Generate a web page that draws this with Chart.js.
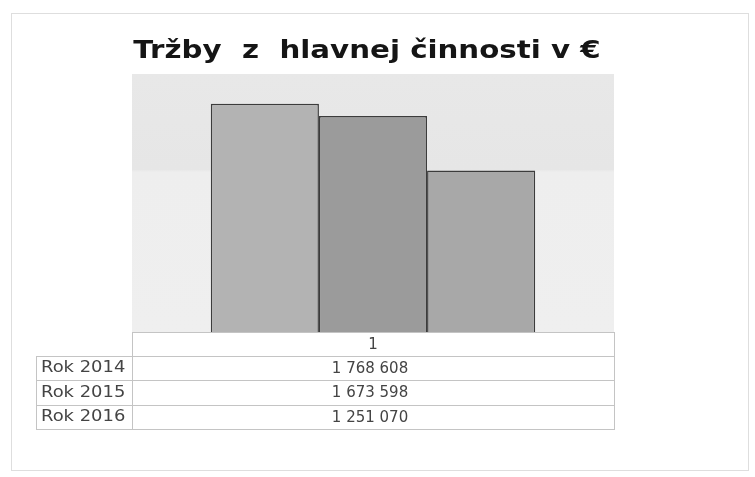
<!DOCTYPE html>
<html>
<head>
<meta charset="utf-8">
<script src="https://cdn.jsdelivr.net/npm/chart.js@4/dist/chart.umd.min.js"></script>
<style>
  html, body { margin: 0; padding: 0; background: #fff; }
  #wrap { width: 755px; height: 477px; position: relative; }
</style>
</head>
<body>
<div id="wrap"><canvas id="trzbyChart" width="755" height="477"></canvas></div>
<script>
// data
const chartTitle = 'Tržby  z  hlavnej činnosti v €';
const categories = ['1'];
const rokLabels = ['Rok 2014', 'Rok 2015', 'Rok 2016'];
const trzby = [1768608, 1673598, 1251070];
const barColors = ['#b3b3b3', '#9b9b9b', '#a8a8a8'];

function formatNum(v){
    return String(v).replace(/\B(?=(\d{3})+(?!\d))/g, ' ');
}

// frame + light plot background + wide title (the scan is stretched sideways)
const backgroundPlugin = {
    id: 'backgroundPlugin',
    beforeDraw(chart){
        const ctx = chart.ctx;
        const a = chart.chartArea;
        ctx.save();
        ctx.strokeStyle = '#dedede';
        ctx.lineWidth = 1;
        ctx.strokeRect(11.5, 13.5, 737, 457);
        const grad = ctx.createLinearGradient(0, a.top, 0, a.bottom);
        grad.addColorStop(0, '#e8e8e8');
        grad.addColorStop(0.37, '#e6e6e6');
        grad.addColorStop(0.38, '#eeeeee');
        grad.addColorStop(1, '#efefef');
        ctx.fillStyle = grad;
        ctx.fillRect(a.left, a.top, a.right - a.left, a.bottom - a.top);

        ctx.font = 'bold 24px "DejaVu Sans", sans-serif';
        ctx.fillStyle = '#151515';
        ctx.textAlign = 'center';
        ctx.textBaseline = 'alphabetic';
        const cx = (a.left + a.right) / 2 - 6;
        ctx.translate(cx, 58);
        ctx.scale(1.22, 1);
        ctx.fillText(chartTitle, 0, 0);
        ctx.restore();
    }
};

// data table under the chart
const dataTablePlugin = {
    id: 'dataTablePlugin',
    afterDraw(chart){
        const ctx = chart.ctx;
        const a = chart.chartArea;
        const labelLeft = a.left - 96;
        const headerH = 24;
        const rowH = 24.3;
        ctx.save();
        ctx.strokeStyle = '#c4c4c4';
        ctx.lineWidth = 1;
        ctx.fillStyle = '#444';
        ctx.textBaseline = 'middle';

        // header row
        ctx.strokeRect(a.left + 0.5, a.bottom + 0.5, a.right - a.left, headerH);
        ctx.textAlign = 'center';
        ctx.font = '15px "DejaVu Sans", sans-serif';
        ctx.fillText(categories[0], (a.left + a.right) / 2, a.bottom + headerH / 2 + 1);

        rokLabels.forEach((lab, i) => {
            const y = Math.round(a.bottom + headerH + i * rowH);
            const yn = Math.round(a.bottom + headerH + (i + 1) * rowH);
            ctx.strokeRect(labelLeft + 0.5, y + 0.5, a.left - labelLeft, yn - y);
            ctx.strokeRect(a.left + 0.5, y + 0.5, a.right - a.left, yn - y);
            ctx.save();
            ctx.textAlign = 'left';
            ctx.font = '16px "DejaVu Sans", sans-serif';
            ctx.translate(labelLeft + 5, (y + yn) / 2);
            ctx.scale(1.12, 1);
            ctx.fillText(lab, 0, 0);
            ctx.restore();
            ctx.textAlign = 'center';
            ctx.font = '15px "DejaVu Sans", sans-serif';
            ctx.fillText(formatNum(trzby[i]), (a.left + a.right) / 2 - 3, (y + yn) / 2 + 1);
        });
        ctx.restore();
    }
};

var ctx = document.getElementById('trzbyChart').getContext('2d');
var trzbyChart = new Chart(ctx, {
    type: 'bar',
    data: {
        labels: categories,
        datasets: rokLabels.map((lab, i) => ({
            label: lab,
            data: [trzby[i]],
            backgroundColor: barColors[i],
            borderColor: '#3c3c3c',
            borderWidth: 1.5,
            borderSkipped: 'bottom',
            barPercentage: 1,
            categoryPercentage: 0.673
        }))
    },
    options: {
        responsive: false,
        animation: false,
        layout: { padding: { left: 132, right: 141, top: 74, bottom: 145 } },
        plugins: {
            legend: { display: false },
            tooltip: { enabled: false },
            title: { display: false }
        },
        scales: {
            x: { display: false },
            y: { display: false, min: 0, max: 2000000 }
        }
    },
    plugins: [backgroundPlugin, dataTablePlugin]
});
</script>
</body>
</html>
